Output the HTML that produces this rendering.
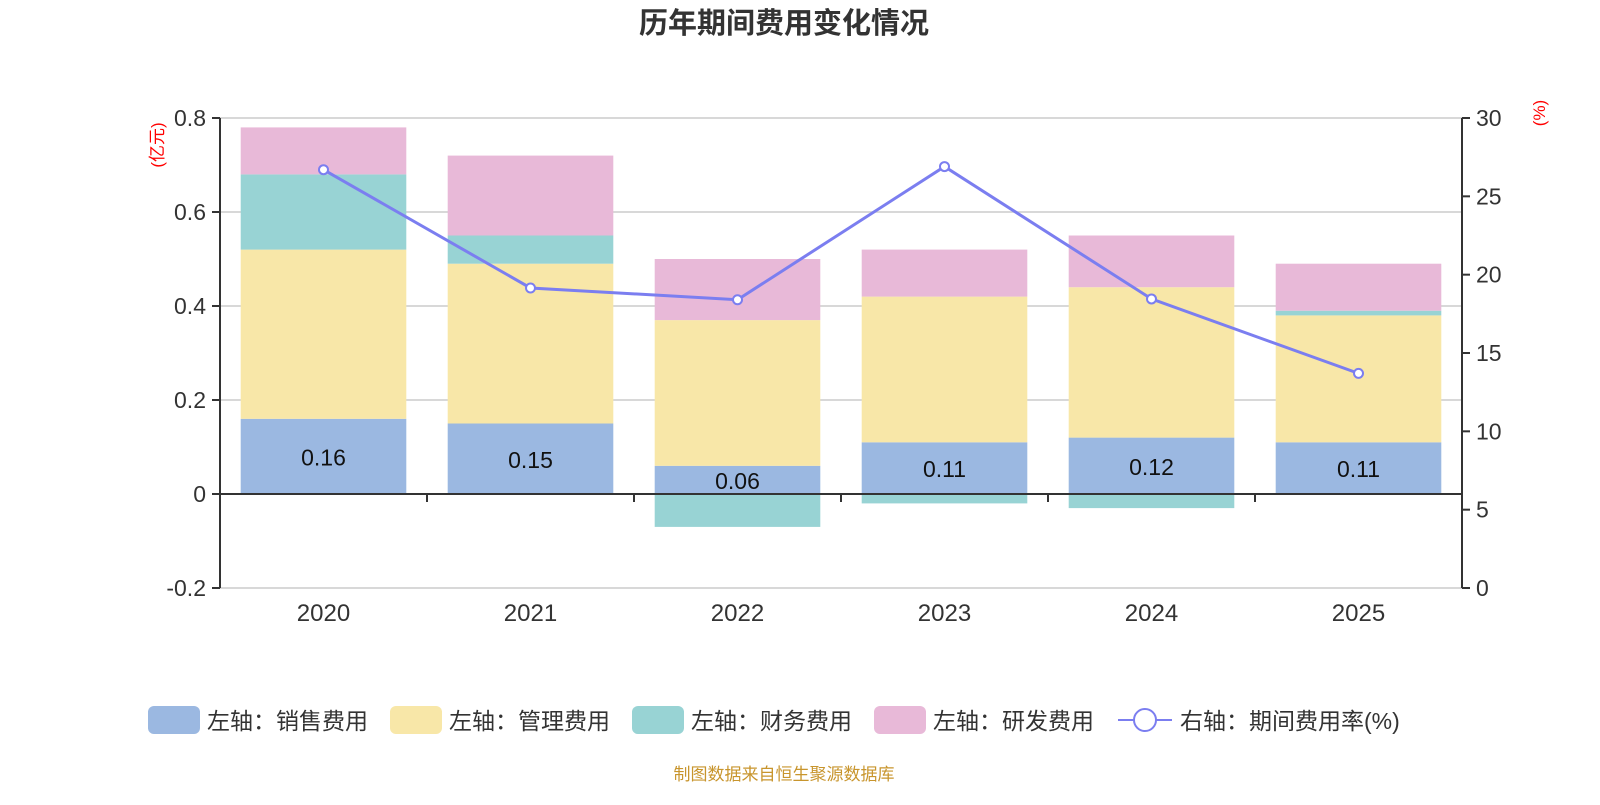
<!DOCTYPE html>
<html><head><meta charset="utf-8"><style>
body{margin:0;background:#fff;font-family:"Liberation Sans","Noto Sans CJK SC",sans-serif;}
</style></head><body>
<svg id="chart" width="1600" height="800" xmlns="http://www.w3.org/2000/svg" font-family="Liberation Sans, Noto Sans CJK SC, sans-serif">
<text x="784" y="33" text-anchor="middle" font-size="29" font-weight="bold" fill="#333">历年期间费用变化情况</text>
<text transform="translate(163,145) rotate(-90)" text-anchor="middle" font-size="17" fill="red">(亿元)</text>
<text transform="translate(1545,113) rotate(-90)" text-anchor="middle" font-size="17" fill="red">(%)</text>
<g id="grid"></g><g id="bars"></g><g id="axes"></g><g id="line"></g>
<g font-size="23" fill="#333">
<g><rect x="148" y="706" width="52" height="28" rx="6" fill="#9bb8e1"/><text x="207" y="729">左轴：销售费用</text></g>
<g><rect x="390" y="706" width="52" height="28" rx="6" fill="#f8e7a8"/><text x="449" y="729">左轴：管理费用</text></g>
<g><rect x="632" y="706" width="52" height="28" rx="6" fill="#98d3d4"/><text x="691" y="729">左轴：财务费用</text></g>
<g><rect x="874" y="706" width="52" height="28" rx="6" fill="#e8b9d8"/><text x="933" y="729">左轴：研发费用</text></g>
<g><line x1="1118" y1="720" x2="1172" y2="720" stroke="#7b7ef0" stroke-width="2"/><circle cx="1145" cy="720" r="11" fill="#fff" stroke="#7b7ef0" stroke-width="2"/><text x="1180" y="729">右轴：期间费用率(%)</text></g>
</g>
<text x="784" y="780" text-anchor="middle" font-size="17" fill="#c8952d">制图数据来自恒生聚源数据库</text>
</svg>
<script>
const years=['2020','2021','2022','2023','2024','2025'];
const sales=[0.16,0.15,0.06,0.11,0.12,0.11];
const admin=[0.36,0.34,0.31,0.31,0.32,0.27];
const finance=[0.16,0.06,-0.07,-0.02,-0.03,0.01];
const rd=[0.10,0.17,0.13,0.10,0.11,0.10];
const rate=[26.7,19.15,18.4,26.9,18.45,13.7];
const leftTicks=[-0.2,0,0.2,0.4,0.6,0.8];
const rightTicks=[0,5,10,15,20,25,30];
const NS='http://www.w3.org/2000/svg';
const x0=220,x1=1462,yTop=118,yBot=588;
const yL=v=>yBot-(v+0.2)/1.0*(yBot-yTop);
const yR=v=>yBot-v/30*(yBot-yTop);
const bw=(x1-x0)/years.length;
const xc=i=>x0+bw*(i+0.5);
function mk(t,a,p){const e=document.createElementNS(NS,t);for(const k in a)e.setAttribute(k,a[k]);document.getElementById(p).appendChild(e);return e;}
leftTicks.forEach(v=>{
 if(v!==0){const g=mk('line',{x1:x0,x2:x1,y1:yL(v),y2:yL(v),stroke:'#ccc','stroke-width':1.5},'grid');
 
 }
 const t=mk('text',{x:x0-14,y:yL(v)+8,'text-anchor':'end','font-size':23,fill:'#333'},'axes');t.textContent=v===0?'0':v.toFixed(1);
 
 
 mk('line',{x1:x0-8,x2:x0,y1:yL(v),y2:yL(v),stroke:'#333','stroke-width':2},'axes');
});
rightTicks.forEach(v=>{
 const t=mk('text',{x:x1+14,y:yR(v)+8,'font-size':23,fill:'#333'},'axes');t.textContent=v;
 
 
 mk('line',{x1:x1,x2:x1+8,y1:yR(v),y2:yR(v),stroke:'#333','stroke-width':2},'axes');
});
mk('line',{x1:x0,x2:x0,y1:yTop,y2:yBot,stroke:'#333','stroke-width':2},'axes');
mk('line',{x1:x1,x2:x1,y1:yTop,y2:yBot,stroke:'#333','stroke-width':2},'axes');
mk('line',{x1:x0,x2:x1,y1:yL(0),y2:yL(0),stroke:'#333','stroke-width':2},'axes');
for(let i=0;i<=years.length;i++)mk('line',{x1:x0+bw*i,x2:x0+bw*i,y1:yL(0),y2:yL(0)+8,stroke:'#333','stroke-width':2},'axes');
const series=[[sales,'#9bb8e1','bar-sales'],[admin,'#f8e7a8','bar-admin'],[finance,'#98d3d4','bar-finance'],[rd,'#e8b9d8','bar-rd']];
years.forEach((y,i)=>{
 let pos=0,neg=0;
 series.forEach(([arr,c,n])=>{
  const v=arr[i];let a,b;
  if(v>=0){a=pos;b=pos+v;pos=b;}else{a=neg;b=neg+v;neg=b;}
  const top=yL(Math.max(a,b)),bot=yL(Math.min(a,b));
  const r=mk('rect',{x:xc(i)-bw*0.4,y:top,width:bw*0.8,height:Math.max(0,bot-top),fill:c},'bars');
  
  
 });
 const l=mk('text',{x:xc(i),y:(yL(0)+yL(sales[i]))/2+9,'text-anchor':'middle','font-size':23,fill:'#111'},'bars');l.textContent=sales[i].toFixed(2);
 
 
 const t=mk('text',{x:xc(i),y:yBot+33,'text-anchor':'middle','font-size':24,fill:'#333'},'axes');t.textContent=y;
 
 
});
const pl=mk('polyline',{points:rate.map((v,i)=>xc(i)+','+yR(v)).join(' '),fill:'none',stroke:'#7b7ef0','stroke-width':3},'line');


rate.forEach((v,i)=>{const c=mk('circle',{cx:xc(i),cy:yR(v),r:4.5,fill:'#fff',stroke:'#7b7ef0','stroke-width':2},'line');
 
 });
</script>
</body></html>
